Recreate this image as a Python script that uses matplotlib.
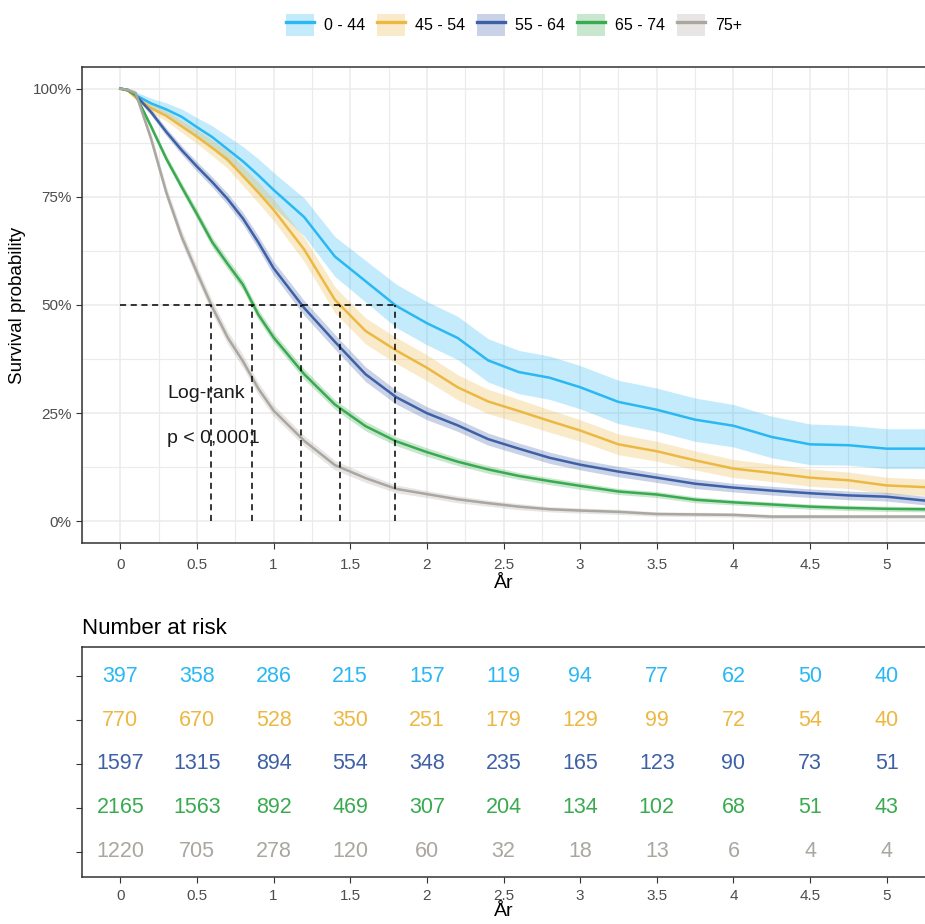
import numpy as np
import matplotlib
matplotlib.use("Agg")
import matplotlib.pyplot as plt
from matplotlib.patches import Patch
from matplotlib.lines import Line2D
from matplotlib.ticker import MultipleLocator, PercentFormatter

plt.rcParams['font.family'] = ['Liberation Sans', 'DejaVu Sans']

# time grid (years) the curves were read at
years = [0, 0.05, 0.1, 0.2, 0.3, 0.4, 0.5, 0.6, 0.7, 0.8, 0.9, 1.0, 1.2, 1.4, 1.6,
         1.8, 2.0, 2.2, 2.4, 2.6, 2.8, 3.0, 3.25, 3.5, 3.75, 4.0, 4.25, 4.5, 4.75,
         5.0, 5.25]

groups = ['0 - 44', '45 - 54', '55 - 64', '65 - 74', '75+']
colors = ['#29B8F4', '#ECB842', '#3E60A6', '#3AAA50', '#AAA6A0']

surv_0_44 = [1.0, 0.997, 0.985, 0.966, 0.952, 0.935, 0.911, 0.888, 0.86, 0.832, 0.80,
             0.766, 0.703, 0.612, 0.555, 0.498, 0.458, 0.424, 0.372, 0.345, 0.332,
             0.31, 0.276, 0.258, 0.235, 0.221, 0.195, 0.178, 0.176, 0.168, 0.168]
surv_45_54 = [1.0, 0.995, 0.98, 0.955, 0.937, 0.913, 0.889, 0.863, 0.836, 0.798, 0.76,
              0.72, 0.628, 0.512, 0.44, 0.395, 0.355, 0.31, 0.277, 0.255, 0.232,
              0.21, 0.178, 0.162, 0.141, 0.122, 0.112, 0.101, 0.095, 0.083, 0.079]
surv_55_64 = [1.0, 0.997, 0.985, 0.946, 0.90, 0.858, 0.82, 0.784, 0.745, 0.70, 0.645,
              0.585, 0.493, 0.415, 0.34, 0.287, 0.25, 0.222, 0.19, 0.168, 0.147,
              0.131, 0.115, 0.101, 0.087, 0.078, 0.071, 0.065, 0.060, 0.057, 0.048]
surv_65_74 = [1.0, 0.996, 0.985, 0.913, 0.838, 0.773, 0.71, 0.645, 0.595, 0.547, 0.478,
              0.425, 0.340, 0.27, 0.22, 0.185, 0.16, 0.138, 0.12, 0.105, 0.093,
              0.082, 0.069, 0.062, 0.05, 0.044, 0.039, 0.034, 0.031, 0.029, 0.028]
surv_75 = [1.0, 0.997, 0.99, 0.885, 0.76, 0.658, 0.575, 0.495, 0.425, 0.37, 0.307,
           0.256, 0.186, 0.13, 0.10, 0.075, 0.063, 0.051, 0.042, 0.034, 0.028,
           0.025, 0.022, 0.017, 0.016, 0.015, 0.011, 0.011, 0.011, 0.011, 0.011]

# half-width of the confidence band at each time
ci_0_44 = [0, 0.003, 0.008, 0.012, 0.015, 0.018, 0.022, 0.026, 0.03, 0.034, 0.038,
           0.04, 0.044, 0.046, 0.048, 0.05, 0.05, 0.05, 0.05, 0.05, 0.05, 0.05,
           0.05, 0.05, 0.05, 0.049, 0.048, 0.047, 0.046, 0.046, 0.046]
ci_45_54 = [0, 0.003, 0.006, 0.01, 0.012, 0.014, 0.016, 0.018, 0.02, 0.022, 0.024,
            0.025, 0.028, 0.03, 0.03, 0.03, 0.03, 0.029, 0.028, 0.027, 0.026,
            0.025, 0.024, 0.023, 0.022, 0.021, 0.02, 0.02, 0.019, 0.019, 0.019]
ci_55_64 = [0, 0.002, 0.005, 0.007, 0.009, 0.01, 0.011, 0.012, 0.013, 0.014, 0.015,
            0.016, 0.017, 0.017, 0.017, 0.016, 0.015, 0.014, 0.014, 0.013, 0.013,
            0.012, 0.012, 0.011, 0.011, 0.01, 0.01, 0.01, 0.01, 0.01, 0.01]
ci_65_74 = [0, 0.002, 0.004, 0.007, 0.009, 0.01, 0.011, 0.012, 0.012, 0.012, 0.012,
            0.012, 0.012, 0.011, 0.011, 0.01, 0.01, 0.009, 0.009, 0.008, 0.008,
            0.008, 0.007, 0.007, 0.007, 0.006, 0.006, 0.006, 0.006, 0.006, 0.006]
ci_75 = [0, 0.003, 0.006, 0.012, 0.014, 0.015, 0.015, 0.015, 0.015, 0.015, 0.014,
         0.013, 0.012, 0.011, 0.01, 0.009, 0.008, 0.008, 0.007, 0.007, 0.006,
         0.006, 0.006, 0.005, 0.005, 0.005, 0.005, 0.005, 0.005, 0.005, 0.005]

# median survival per group (same order as groups)
medians = [1.789, 1.436, 1.181, 0.862, 0.594]

risk_times = [0, 0.5, 1, 1.5, 2, 2.5, 3, 3.5, 4, 4.5, 5]
risk_0_44 = [397, 358, 286, 215, 157, 119, 94, 77, 62, 50, 40]
risk_45_54 = [770, 670, 528, 350, 251, 179, 129, 99, 72, 54, 40]
risk_55_64 = [1597, 1315, 894, 554, 348, 235, 165, 123, 90, 73, 51]
risk_65_74 = [2165, 1563, 892, 469, 307, 204, 134, 102, 68, 51, 43]
risk_75 = [1220, 705, 278, 120, 60, 32, 18, 13, 6, 4, 4]

survs = [surv_0_44, surv_45_54, surv_55_64, surv_65_74, surv_75]
cis = [ci_0_44, ci_45_54, ci_55_64, ci_65_74, ci_75]
risks = [risk_0_44, risk_45_54, risk_55_64, risk_65_74, risk_75]

W, H = 925, 924
fig = plt.figure(figsize=(W / 100, H / 100), dpi=100)

def box(l, t, r, b):
    return [l / W, 1 - b / H, (r - l) / W, (b - t) / H]

tick_col = '#4D4D4D'
edge_col = '#333333'

# ---- survival curves ----
ax = fig.add_axes(box(82, 67, 925, 543))
t = np.array(years)
for s, ci, c in zip(survs, cis, colors):
    s = np.array(s)
    ci = np.array(ci)
    ax.fill_between(t, s - ci, s + ci, color=c, alpha=0.28, lw=0, zorder=2)
    ax.plot(t, s, color=c, lw=1.8, zorder=3)

ax.hlines(0.5, 0, max(medians), colors='black', linestyles=(0, (4, 3)), lw=1.1, zorder=4)
ax.vlines(medians, 0, 0.5, colors='black', linestyles=(0, (4, 3)), lw=1.1, zorder=4)

ax.text(0.305, 0.296, 'Log-rank', fontsize=14, color='#1A1A1A', va='center', ha='left', zorder=5)
ax.text(0.305, 0.192, 'p < 0,0001', fontsize=14, color='#1A1A1A', va='center', ha='left', zorder=5)

ax.set_xlim(-0.25, 5.25)
ax.set_ylim(-0.05, 1.05)
ax.xaxis.set_minor_locator(MultipleLocator(0.25))
ax.yaxis.set_major_locator(MultipleLocator(0.25))
ax.yaxis.set_minor_locator(MultipleLocator(0.125))
ax.yaxis.set_major_formatter(PercentFormatter(1.0, decimals=0))
ax.set_xticks(np.arange(0, 5.01, 0.5))
ax.set_xticklabels([f'{v:g}' for v in np.arange(0, 5.01, 0.5)])
ax.grid(which='major', color='#EBEBEB', lw=1.1, zorder=0)
ax.grid(which='minor', color='#EBEBEB', lw=0.8, zorder=0)
ax.set_axisbelow(True)
ax.tick_params(which='major', length=4, color=edge_col, labelcolor=tick_col, labelsize=11)
ax.tick_params(axis='x', pad=7)
ax.tick_params(which='minor', length=0)
for side in ['top', 'left', 'bottom']:
    ax.spines[side].set_color(edge_col)
    ax.spines[side].set_linewidth(1.1)
ax.spines['right'].set_visible(False)
ax.set_xlabel('År', fontsize=14, labelpad=2)
ax.set_ylabel('Survival probability', fontsize=13.5, labelpad=5)

# ---- legend ----
handles = [(Patch(facecolor=c, alpha=0.28, edgecolor='none'), Line2D([], [], color=c, lw=2.4))
           for c in colors]
fig.legend(handles, groups, loc='center', bbox_to_anchor=(514 / W, 1 - 25 / H), ncol=5,
           frameon=False, fontsize=11.5, handlelength=1.75, handleheight=1.7,
           handletextpad=0.62, columnspacing=0.75)

# ---- risk table ----
rt = fig.add_axes(box(82, 647, 925, 877))
rows = [4, 3, 2, 1, 0]
for r, vals, c in zip(rows, risks, colors):
    for x, v in zip(risk_times, vals):
        rt.text(x, r, str(v), color=c, fontsize=15.5, ha='center', va='center')
rt.set_xlim(-0.25, 5.25)
rt.set_ylim(-0.57, 4.66)
rt.set_yticks(rows)
rt.set_yticklabels([])
rt.set_xticks(risk_times)
rt.set_xticklabels([f'{v:g}' for v in risk_times])
rt.tick_params(length=4, color=edge_col, labelcolor=tick_col, labelsize=11, pad=5)
for side in ['top', 'left', 'bottom']:
    rt.spines[side].set_color(edge_col)
    rt.spines[side].set_linewidth(1.1)
rt.spines['right'].set_visible(False)
rt.set_xlabel('År', fontsize=14, labelpad=0)
rt.set_title('Number at risk', loc='left', fontsize=16, pad=9)

fig.savefig('out.png', dpi=100, facecolor='white')
